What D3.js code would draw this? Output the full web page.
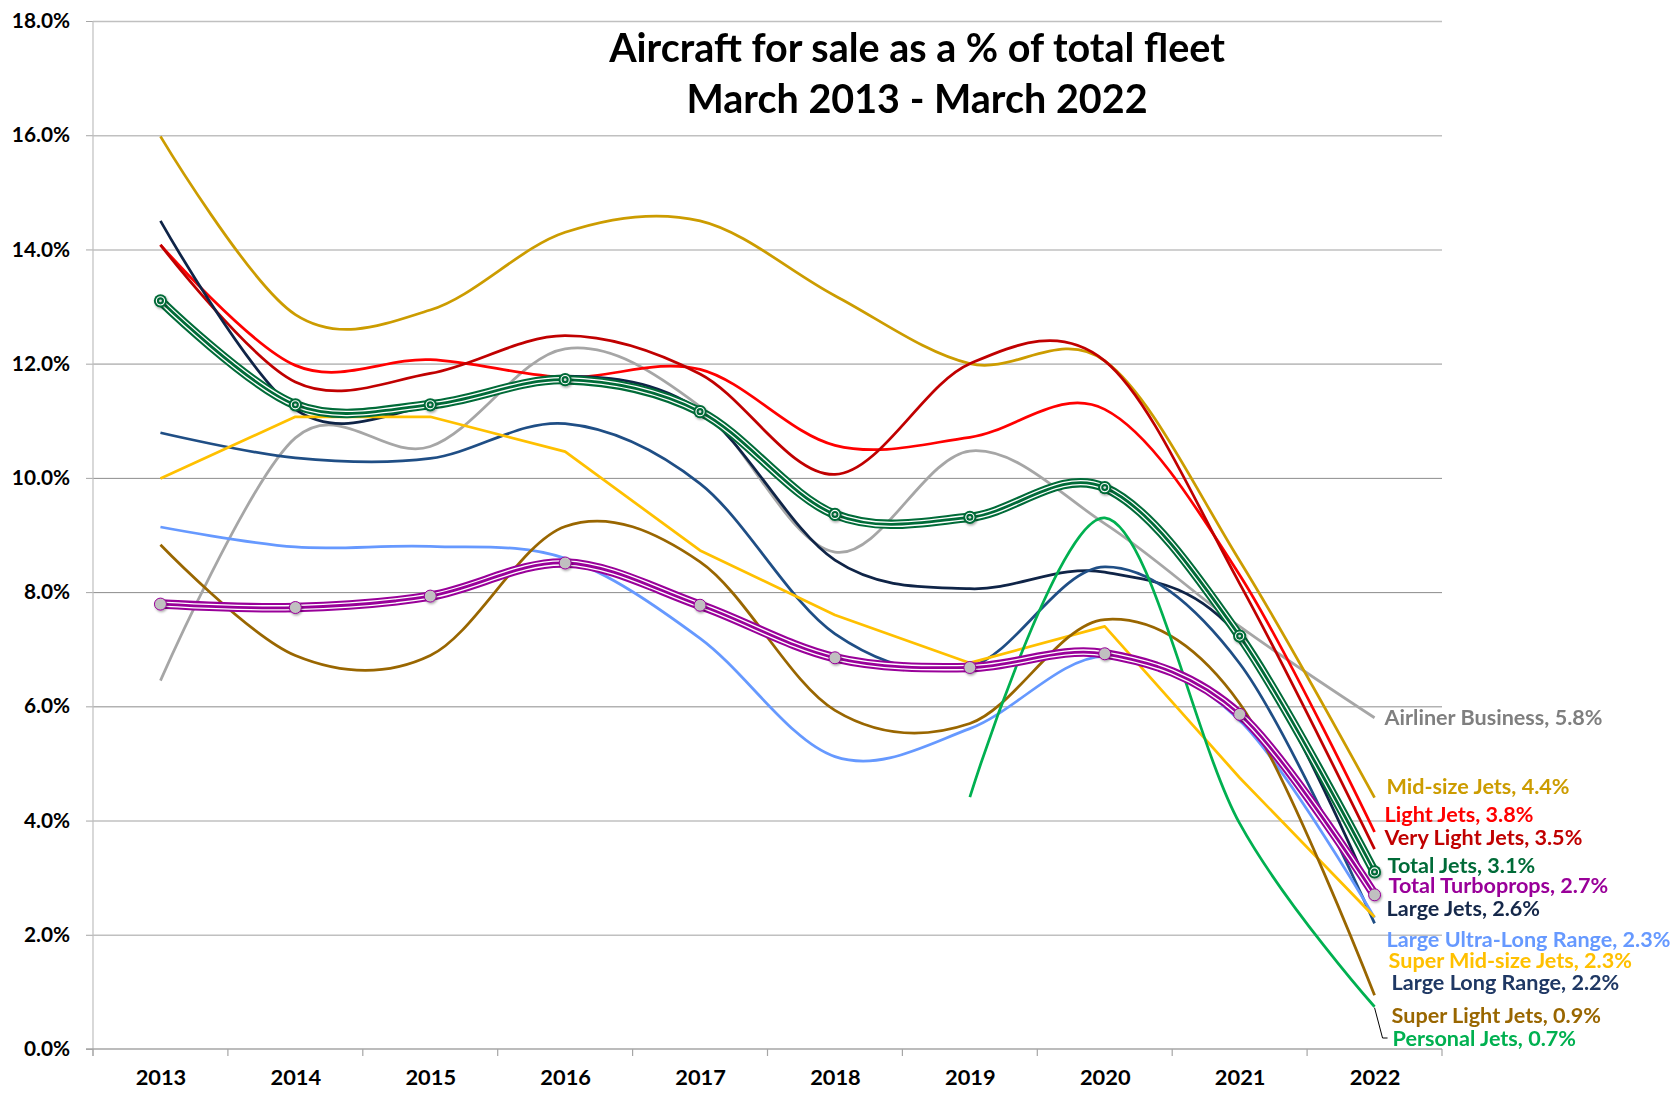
<!DOCTYPE html>
<html>
<head>
<meta charset="utf-8">
<script src="https://cdn.jsdelivr.net/npm/d3@7/dist/d3.min.js"></script>
<style>
  body { margin: 0; background: #fff; }
  svg { display: block; font-family: Lato, "Open Sans", sans-serif; font-weight: 700; }
</style>
</head>
<body>
<div id="chart"></div>
<script>
// Years on the x axis
const years = [2013, 2014, 2015, 2016, 2017, 2018, 2019, 2020, 2021, 2022];

// % of fleet for sale
const airlinerBusiness    = [6.45, 10.7, 10.55, 12.26, 11.25, 8.7, 10.47, 9.2, 7.4, 5.8];
const midsizeJets         = [15.98, 12.86, 12.94, 14.3, 14.5, 13.19, 12.0, 12.05, 8.55, 4.4];
const lightJets           = [14.08, 11.97, 12.07, 11.76, 11.9, 10.57, 10.71, 11.2, 8.3, 3.8];
const veryLightJets       = [14.08, 11.68, 11.83, 12.49, 11.82, 10.06, 12.0, 12.05, 8.15, 3.5];
const largeJets           = [14.5, 11.2, 11.25, 11.78, 11.18, 8.56, 8.06, 8.35, 7.2, 2.6];
const largeLongRange      = [10.79, 10.35, 10.34, 10.95, 9.9, 7.27, 6.69, 8.44, 6.75, 2.2];
const largeUltraLongRange = [9.14, 8.79, 8.8, 8.59, 7.19, 5.12, 5.61, 6.88, 5.75, 2.3];
const superMidsizeJets    = [9.99, 11.07, 11.07, 10.46, 8.73, 7.6, 6.76, 7.4, 4.75, 2.31];
const superLightJets      = [8.83, 6.89, 6.89, 9.15, 8.53, 5.93, 5.7, 7.52, 6.05, 0.94];
const personalJets        = [null, null, null, null, null, null, 4.41, 9.3, 3.95, 0.74];
const totalJets           = [13.1, 11.28, 11.28, 11.72, 11.16, 9.36, 9.31, 9.83, 7.23, 3.1];
const totalTurboprops     = [7.79, 7.73, 7.93, 8.51, 7.77, 6.85, 6.68, 6.92, 5.86, 2.7];

const yTicks = [0, 2, 4, 6, 8, 10, 12, 14, 16, 18];

const seriesNames = [
  "Airliner Business", "Mid-size Jets", "Light Jets", "Very Light Jets",
  "Large Jets", "Large Long Range", "Large Ultra-Long Range", "Super Mid-size Jets",
  "Super Light Jets", "Personal Jets", "Total Jets", "Total Turboprops"
];
const seriesValues = [
  airlinerBusiness, midsizeJets, lightJets, veryLightJets,
  largeJets, largeLongRange, largeUltraLongRange, superMidsizeJets,
  superLightJets, personalJets, totalJets, totalTurboprops
];

// look of each series and where its end label sits
const style = {
  "Airliner Business":      { line: "#A6A6A6", label: "#7F7F7F", labelY: 717, dx: 10 },
  "Mid-size Jets":          { line: "#CC9C00", label: "#CC9C00", labelY: 786, dx: 12 },
  "Light Jets":             { line: "#FF0000", label: "#FF0000", labelY: 814, dx: 10 },
  "Very Light Jets":        { line: "#C00000", label: "#C00000", labelY: 837, dx: 10 },
  "Large Jets":             { line: "#0F2447", label: "#15284A", labelY: 908, dx: 12 },
  "Large Long Range":       { line: "#1F4E85", label: "#1F3864", labelY: 982, dx: 17 },
  "Large Ultra-Long Range": { line: "#6699FF", label: "#6699FF", labelY: 939, dx: 12 },
  "Super Mid-size Jets":    { line: "#FFC000", label: "#FFC000", labelY: 960, dx: 14, straight: true },
  "Super Light Jets":       { line: "#996600", label: "#996600", labelY: 1015, dx: 17 },
  "Personal Jets":          { line: "#00B050", label: "#00B050", labelY: 1038, dx: 18, leader: true },
  "Total Jets":             { line: "#006B38", label: "#006B38", labelY: 865, dx: 13, total: true },
  "Total Turboprops":       { line: "#990099", label: "#990099", labelY: 885, dx: 14, total: true }
};

const width = 1673, height = 1094;
const plot = { left: 93, right: 1442, top: 21, bottom: 1049 };

const svg = d3.select("#chart").append("svg")
  .attr("width", width)
  .attr("height", height);

svg.append("rect").attr("width", width).attr("height", height).attr("fill", "#fff");

const defs = svg.append("defs");
defs.append("filter").attr("id", "shadow")
  .attr("x", "-50%").attr("y", "-50%").attr("width", "200%").attr("height", "200%")
  .append("feDropShadow")
  .attr("dx", 1).attr("dy", 1.5).attr("stdDeviation", 1.2)
  .attr("flood-color", "#000").attr("flood-opacity", 0.35);

const x = d3.scalePoint().domain(years).range([plot.left, plot.right]).padding(0.5);
const xBand = d3.scaleBand().domain(years).range([plot.left, plot.right]);
const y = d3.scaleLinear().domain([0, 18]).range([plot.bottom, plot.top]);

// Gridlines
const grid = svg.append("g")
  .attr("transform", `translate(${plot.left},0)`)
  .call(d3.axisLeft(y).tickValues(yTicks.filter(t => t > 0))
    .tickSize(-(plot.right - plot.left)).tickFormat(""));
grid.select(".domain").remove();
grid.selectAll(".tick line")
  .attr("stroke", d => (d >= 6 && d <= 10) ? "#8C8C8C" : "#C0C0C0")
  .attr("stroke-width", d => (d >= 6 && d <= 10) ? 1 : 1.6);

// Y axis labels and small outer ticks
const yAxis = svg.append("g")
  .attr("transform", `translate(${plot.left},0)`)
  .call(d3.axisLeft(y).tickValues(yTicks).tickSize(7).tickPadding(16)
    .tickFormat(d => d3.format(".1f")(d) + "%"));
yAxis.select(".domain").remove();
yAxis.selectAll(".tick line").attr("stroke", "#A6A6A6");
yAxis.selectAll(".tick text")
  .attr("font-size", "20.8px").attr("font-family", "Lato, sans-serif")
  .attr("font-weight", 700).attr("fill", "#000");

// Vertical axis line
svg.append("line")
  .attr("x1", plot.left).attr("x2", plot.left)
  .attr("y1", plot.top).attr("y2", plot.bottom + 7)
  .attr("stroke", "#BFBFBF").attr("stroke-width", 1.2);

// X axis line and boundary ticks
svg.append("line")
  .attr("x1", plot.left - 7).attr("x2", plot.right)
  .attr("y1", plot.bottom).attr("y2", plot.bottom)
  .attr("stroke", "#A6A6A6").attr("stroke-width", 1.4);

const bounds = years.map(d => xBand(d)).concat([plot.right]);
svg.append("g").selectAll("line")
  .data(bounds)
  .enter()
  .append("line")
  .attr("x1", d => d).attr("x2", d => d)
  .attr("y1", plot.bottom).attr("y2", plot.bottom + 7)
  .attr("stroke", "#A6A6A6").attr("stroke-width", 1.2);

const xAxis = svg.append("g")
  .attr("transform", `translate(0,${plot.bottom})`)
  .call(d3.axisBottom(x).tickSize(0).tickPadding(21).tickFormat(d3.format("d")));
xAxis.select(".domain").remove();
xAxis.selectAll(".tick text")
  .attr("font-size", "21.8px").attr("font-family", "Lato, sans-serif")
  .attr("font-weight", 700).attr("fill", "#000");

// Series lines
const smooth = d3.line()
  .defined(d => d.v != null)
  .x(d => x(d.year))
  .y(d => y(d.v))
  .curve(d3.curveCardinal.tension(0));

const straight = d3.line()
  .defined(d => d.v != null)
  .x(d => x(d.year))
  .y(d => y(d.v));

const data = seriesNames.map((name, i) => ({
  name,
  points: years.map((year, j) => ({ year, v: seriesValues[i][j] }))
}));

const linesG = svg.append("g");

data.filter(s => !style[s.name].total).forEach(s => {
  const st = style[s.name];
  linesG.append("path")
    .datum(s.points)
    .attr("d", st.straight ? straight : smooth)
    .attr("fill", "none")
    .attr("stroke", st.line)
    .attr("stroke-width", 2.75)
    .attr("stroke-linejoin", "round");
});

// Totals: triple line (color / white / color) with markers
data.filter(s => style[s.name].total).forEach(s => {
  const st = style[s.name];
  linesG.append("path").datum(s.points).attr("d", smooth)
    .attr("fill", "none").attr("stroke", st.line).attr("stroke-width", 9.5);
  linesG.append("path").datum(s.points).attr("d", smooth)
    .attr("fill", "none").attr("stroke", "#fff").attr("stroke-width", 5.4);
  linesG.append("path").datum(s.points).attr("d", smooth)
    .attr("fill", "none").attr("stroke", st.line).attr("stroke-width", 2.8);

  const m = linesG.append("g").attr("filter", "url(#shadow)")
    .selectAll("g")
    .data(s.points)
    .enter()
    .append("g")
    .attr("transform", d => `translate(${x(d.year)},${y(d.v)})`);

  if (s.name === "Total Jets") {
    m.append("circle").attr("r", 6.6).attr("fill", st.line);
    m.append("circle").attr("r", 4.1).attr("fill", "none").attr("stroke", "#fff").attr("stroke-width", 1.1);
    m.append("circle").attr("r", 1.4).attr("fill", "#D9D9D9");
  } else {
    m.append("circle").attr("r", 6).attr("fill", "#C0C0C0")
      .attr("stroke", st.line).attr("stroke-width", 1);
  }
});

// End labels
const last = years[years.length - 1];
const xEnd = x(last);

data.forEach(s => {
  const st = style[s.name];
  const v = s.points[s.points.length - 1].v;
  if (st.leader) {
    svg.append("path")
      .attr("d", d3.line()([[xEnd, y(v) + 1], [xEnd + 8, st.labelY], [xEnd + st.dx - 5, st.labelY]]))
      .attr("fill", "none").attr("stroke", "#000").attr("stroke-width", 1);
  }
  svg.append("text")
    .attr("x", xEnd + st.dx)
    .attr("y", st.labelY)
    .attr("dy", "0.36em")
    .attr("font-size", "21.6px")
    .attr("fill", st.label)
    .text(`${s.name}, ${d3.format(".1f")(v)}%`);
});

// Title
const title = svg.append("text")
  .attr("x", 917)
  .attr("text-anchor", "middle")
  .attr("font-size", "39.5px")
  .attr("fill", "#000");
title.append("tspan").attr("x", 917).attr("y", 62).text("Aircraft for sale as a % of total fleet");
title.append("tspan").attr("x", 917).attr("y", 113).text("March 2013 - March 2022");
</script>
</body>
</html>
